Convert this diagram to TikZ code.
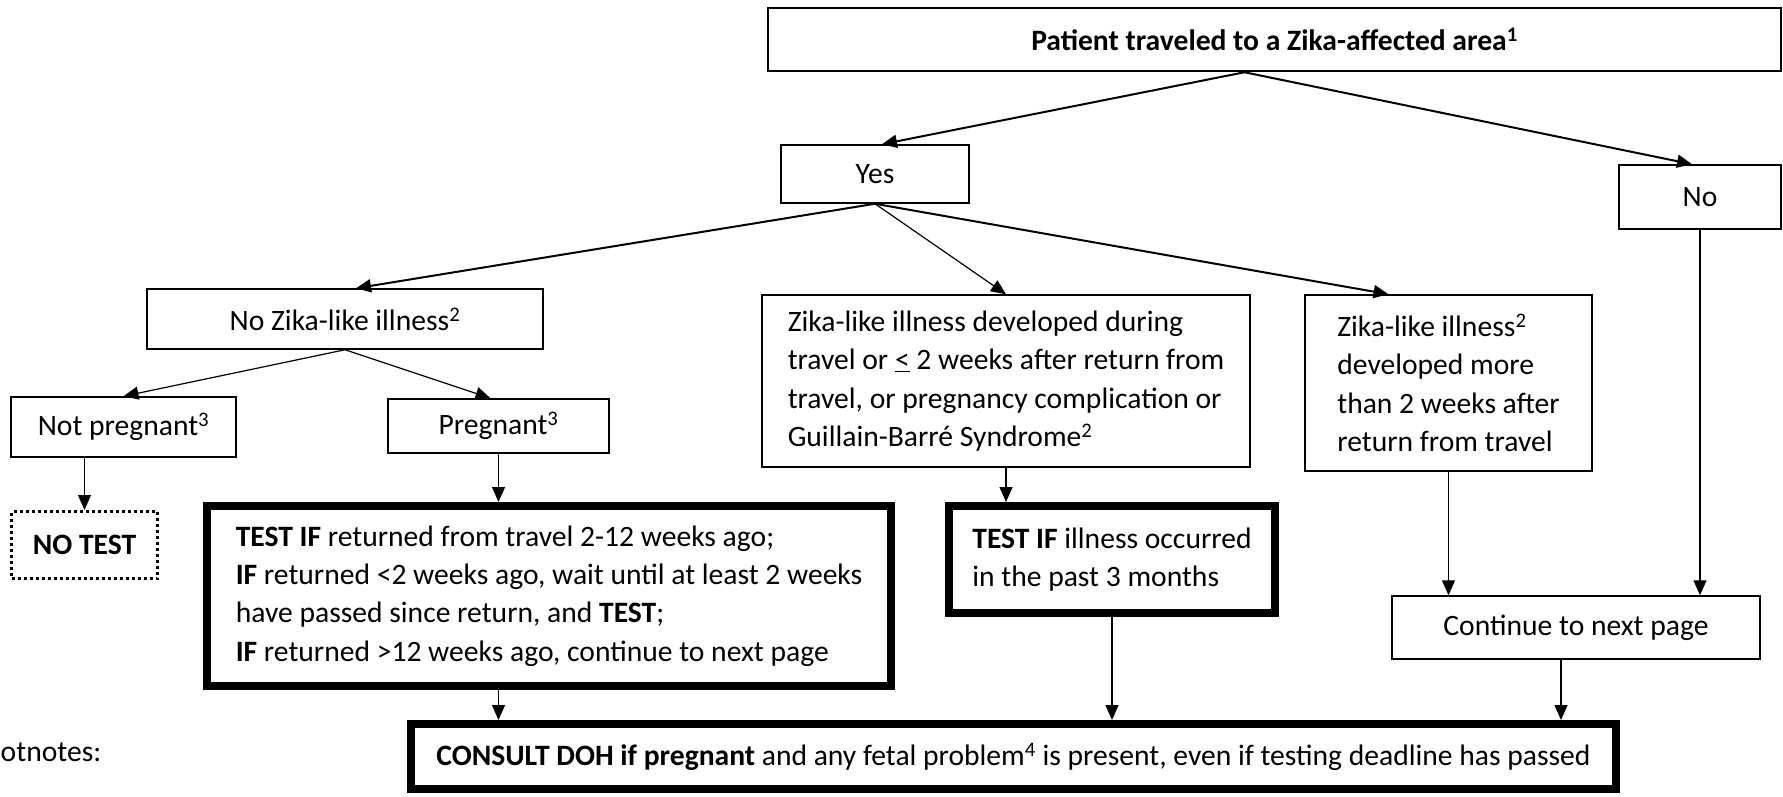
\documentclass[tikz,border=0pt]{standalone}
\usepackage{fontspec}
\setmainfont{Carlito}
\usepackage{tikz}
\usetikzlibrary{arrows.meta}

\begin{document}
\begin{tikzpicture}[
  x=1pt, y=-1pt,
  every node/.style={
    rectangle,
    draw,
    line width=1.5pt,
    align=center,
    inner sep=0pt,
    font=\fontsize{29.6}{38.4}\selectfont
  },
  decision/.style={line width=8pt},
  notestbox/.style={line width=3pt, dash pattern=on 3pt off 3pt},
  plainlabel/.style={draw=none},
  arr/.style={draw, line width=1.2pt, -{Triangle[length=15pt,width=13pt]}},
  thickarr/.style={arr, line width=2pt}
]
\useasboundingbox (0,0) rectangle (1783,796);

\node[minimum width=1013pt, minimum height=63pt, line width=2.5pt,
  font={\fontsize{29.6}{38.4}\selectfont\bfseries}] (top) at (1274.5,39.5)
  {Patient traveled to a Zika-affected area\textsuperscript{1}};
\node[minimum width=188pt, minimum height=58pt] (yes) at (875,174) {Yes};
\node[minimum width=162pt, minimum height=64pt] (no) at (1700,197) {No};
\node[minimum width=396pt, minimum height=60pt] (nozika) at (345,319)
  {No Zika-like illness\textsuperscript{2}};
\node[minimum width=488pt, minimum height=172pt, align=left] (during) at (1006,381)
  {Zika-like illness developed during\\
   travel or \underline{<} 2 weeks after return from\\
   travel, or pregnancy complication or\\
   Guillain-Barré Syndrome\textsuperscript{2}};
\node[minimum width=287pt, minimum height=176pt, align=left] (after) at (1448.5,383)
  {Zika-like illness\textsuperscript{2}\\
   developed more\\
   than 2 weeks after\\
   return from travel};
\node[minimum width=225pt, minimum height=60pt] (notpreg) at (123.5,427)
  {Not pregnant\textsuperscript{3}};
\node[minimum width=221pt, minimum height=54pt] (preg) at (498.5,426)
  {Pregnant\textsuperscript{3}};
\node[notestbox, minimum width=146pt, minimum height=67pt] (notest) at (84.5,545)
  {\textbf{NO TEST}};
\node[decision, minimum width=684pt, minimum height=180pt, align=left] (testpreg) at (549,596)
  {\textbf{TEST IF} returned from travel 2-12 weeks ago;\\
   \textbf{IF} returned <2 weeks ago, wait until at least 2 weeks\\
   have passed since return, and \textbf{TEST};\\
   \textbf{IF} returned >12 weeks ago, continue to next page};
\node[decision, minimum width=326pt, minimum height=107pt, align=left] (testill) at (1112,559.5)
  {\textbf{TEST IF} illness occurred\\
   in the past 3 months};
\node[minimum width=368pt, minimum height=63pt] (cont) at (1576,627.5)
  {Continue to next page};
\node[decision, minimum width=1205pt, minimum height=65pt] (consult) at (1013.5,756.5)
  {\textbf{CONSULT DOH if pregnant} and any fetal problem\textsuperscript{4} is present, even if testing deadline has passed};
\node[plainlabel, anchor=west] (footnotes) at (0,752) {otnotes:};

\draw[thickarr] ([xshift=-30pt]top.south) -- ([xshift=7pt]yes.north);
\draw[thickarr] ([xshift=-30pt]top.south) -- ([xshift=-8pt]no.north);
\draw[thickarr] (yes.south) -- ([xshift=11pt]nozika.north);
\draw[arr] (yes.south) -- (during.north);
\draw[thickarr] (yes.south) -- ([xshift=-60pt]after.north);
\draw[arr] (nozika.south) -- (notpreg.north);
\draw[arr] (nozika.south) -- ([xshift=-8pt]preg.north);
\draw[arr] (notpreg.south -| notest.north) -- (notest.north);
\draw[arr] (preg.south) -- (preg.south |- testpreg.north);
\draw[arr] (during.south) -- (during.south |- testill.north);
\draw[arr] (after.south) -- (after.south |- cont.north);
\draw[arr] (no.south) -- (no.south |- cont.north);
\draw[arr] (preg.south |- testpreg.south) -- (preg.south |- consult.north);
\draw[arr] (testill.south) -- (testill.south |- consult.north);
\draw[arr] ([xshift=-15pt]cont.south) -- ([xshift=-15pt]cont.south |- consult.north);
\end{tikzpicture}
\end{document}
